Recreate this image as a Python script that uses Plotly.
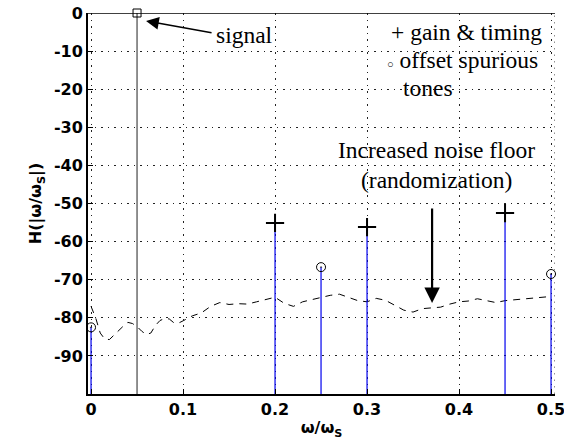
import plotly.graph_objects as go

# ---- data ----
signal_x = [0.05]
signal_y = [0.0]
gain_x = [0.2, 0.3, 0.45]
gain_y = [-55.1, -56.2, -52.5]
offset_x = [0.0, 0.25, 0.5]
offset_y = [-82.5, -66.7, -68.5]
noise_x = [0.000, 0.005, 0.010, 0.015, 0.020, 0.025, 0.030, 0.035, 0.040, 0.045,
           0.050, 0.055, 0.060, 0.065, 0.070, 0.075, 0.080, 0.085, 0.090, 0.095,
           0.100, 0.110, 0.120, 0.130, 0.140, 0.150, 0.160, 0.170, 0.180, 0.190,
           0.200, 0.210, 0.220, 0.230, 0.240, 0.250, 0.260, 0.270, 0.280, 0.290,
           0.300, 0.310, 0.320, 0.330, 0.340, 0.350, 0.360, 0.370, 0.380, 0.390,
           0.400, 0.410, 0.420, 0.430, 0.440, 0.450, 0.460, 0.470, 0.480, 0.490,
           0.500]
noise_y = [-77.0, -80.0, -84.0, -85.6, -85.7, -84.5, -83.2, -82.2, -81.2, -81.5,
           -82.3, -83.5, -84.4, -84.0, -82.0, -80.7, -80.2, -80.3, -81.3, -81.4,
           -80.8, -79.5, -78.7, -77.0, -76.0, -76.5, -76.3, -76.4, -75.8, -75.1,
           -74.6, -76.2, -77.0, -75.8, -75.2, -74.6, -74.1, -73.8, -74.6, -75.5,
           -75.8, -74.9, -75.4, -76.6, -78.0, -78.5, -77.6, -77.4, -77.2, -76.4,
           -75.8, -75.6, -75.0, -75.5, -76.0, -75.5, -75.3, -75.2, -74.9, -74.6,
           -74.4]
x_ticks = [0, 0.1, 0.2, 0.3, 0.4, 0.5]
x_tick_labels = ["0", "0.1", "0.2", "0.3", "0.4", "0.5"]
y_ticks = [0, -10, -20, -30, -40, -50, -60, -70, -80, -90]
y_tick_labels = ["0", "-10", "-20", "-30", "-40", "-50", "-60", "-70", "-80", "-90"]
BASE = -100
X_RANGE = [-0.0033, 0.5043]


def stems(xs, ys):
    sx, sy = [], []
    for x, y in zip(xs, ys):
        sx += [x, x, None]
        sy += [BASE, y, None]
    return sx, sy


fig = go.Figure()

# noise floor
fig.add_trace(go.Scatter(x=noise_x, y=noise_y, mode="lines",
                         line=dict(color="black", width=1, dash="7px,6px")))

# blue spur stems
bx, by = stems(gain_x + offset_x, gain_y + offset_y)
fig.add_trace(go.Scatter(x=bx, y=by, mode="lines",
                         line=dict(color="#0000ee", width=1.2)))
# signal stem
sx, sy = stems(signal_x, signal_y)
fig.add_trace(go.Scatter(x=sx, y=sy, mode="lines",
                         line=dict(color="#222222", width=1)))

fig.add_trace(go.Scatter(x=gain_x, y=gain_y, mode="markers", cliponaxis=False,
                         marker=dict(symbol="cross-thin-open", size=13, color="black",
                                     line=dict(color="black", width=2))))
fig.add_trace(go.Scatter(x=offset_x, y=offset_y, mode="markers", cliponaxis=False,
                         marker=dict(symbol="circle-open-dot", size=9, color="black",
                                     line=dict(color="black", width=1))))
fig.add_trace(go.Scatter(x=signal_x, y=signal_y, mode="markers", cliponaxis=False,
                         marker=dict(symbol="square-open", size=8, color="black",
                                     line=dict(color="black", width=1))))

tick_font = dict(family="DejaVu Sans", size=16, color="black", weight="bold")
grid = dict(showgrid=True, gridcolor="#222222", gridwidth=1, griddash="1.5px,5px",
            zeroline=False, showline=True, linecolor="black", linewidth=2,
            ticks="inside", ticklen=5, tickcolor="black", tickfont=tick_font,
            layer="above traces", ticklabeloverflow="allow", automargin=False)

fig.update_layout(
    width=564, height=443,
    margin=dict(l=88, r=9, t=13, b=49, autoexpand=False),
    paper_bgcolor="white", plot_bgcolor="white",
    showlegend=False,
    xaxis=dict(range=X_RANGE, tickvals=x_ticks, ticktext=x_tick_labels,
               title=dict(text="ω/ω<sub>S</sub>", font=tick_font, standoff=4),
               **grid),
    yaxis=dict(range=[BASE, 0], tickvals=y_ticks, ticktext=y_tick_labels,
               title=dict(text="H(|ω/ω<sub>S</sub>|)", font=tick_font, standoff=8),
               **grid),
)

# top solid and right dotted border
fig.add_shape(type="line", xref="x", yref="y", x0=X_RANGE[0], x1=X_RANGE[1], y0=0, y1=0,
              line=dict(color="black", width=1.5))
fig.add_shape(type="line", xref="x", yref="y", x0=X_RANGE[1], x1=X_RANGE[1], y0=BASE, y1=0,
              line=dict(color="#222222", width=1, dash="1.5px,5px"))

serif = dict(family="Liberation Serif", size=23.5, color="black")

# arrows
fig.add_annotation(x=0.0598, y=-2.1, xref="x", yref="y", ax=67, ay=12, text="",
                   showarrow=True, arrowhead=2, arrowsize=1.7, arrowwidth=1.5,
                   arrowcolor="black", standoff=0)
fig.add_annotation(x=0.3707, y=-76.1, xref="x", yref="y", ax=0, ay=-96, text="",
                   showarrow=True, arrowhead=2, arrowsize=1.4, arrowwidth=2.2,
                   arrowcolor="black", standoff=0)

texts = [
    ("signal", 0.1340, -5.9, "left"),
    ("+ gain &amp; timing", 0.3238, -5.0, "left"),
    ("<span style='font-size:11px'>○</span> offset spurious", 0.3200, -12.3, "left"),
    ("tones", 0.337, -19.8, "left"),
    ("Increased noise floor", 0.376, -36.0, "center"),
    ("(randomization)", 0.375, -43.7, "center"),
]
for t, x, y, anc in texts:
    fig.add_annotation(x=x, y=y, xref="x", yref="y", text=t, showarrow=False,
                       xanchor=anc, yanchor="middle", font=serif)

fig.write_html("out.html", config={"displayModeBar": False},
               post_script="document.body.style.margin='0';document.body.style.overflow='hidden';")
